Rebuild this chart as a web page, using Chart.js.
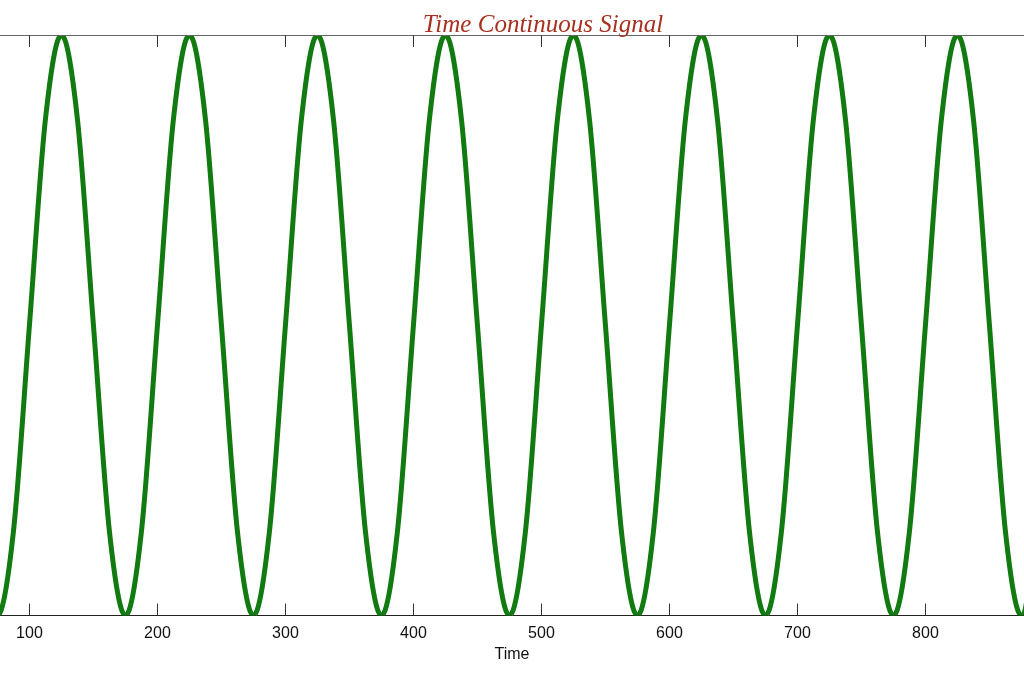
<!DOCTYPE html>
<html>
<head>
<meta charset="utf-8">
<script src="https://cdn.jsdelivr.net/npm/chart.js@4.4.1/dist/chart.umd.min.js"></script>
<style>
  html, body { margin: 0; padding: 0; background: #fff; }
  #wrap { width: 1024px; height: 673px; }
</style>
</head>
<body>
<div id="wrap"><canvas id="sig"></canvas></div>
<script>
// 時間軸 (サンプル点)
const times = [
  62.5, 75, 87.5, 100, 112.5, 125, 137.5, 150, 162.5,
  175, 187.5, 200, 212.5, 225, 237.5, 250, 262.5,
  275, 287.5, 300, 312.5, 325, 337.5, 350, 362.5,
  375, 387.5, 400, 412.5, 425, 437.5, 450, 462.5,
  475, 487.5, 500, 512.5, 525, 537.5, 550, 562.5,
  575, 587.5, 600, 612.5, 625, 637.5, 650, 662.5,
  675, 687.5, 700, 712.5, 725, 737.5, 750, 762.5,
  775, 787.5, 800, 812.5, 825, 837.5, 850, 862.5,
  875, 887.5
];
// 信号の値
const signal = [
  -0.71, -1, -0.71, 0, 0.71, 1, 0.71, 0, -0.71,
  -1, -0.71, 0, 0.71, 1, 0.71, 0, -0.71,
  -1, -0.71, 0, 0.71, 1, 0.71, 0, -0.71,
  -1, -0.71, 0, 0.71, 1, 0.71, 0, -0.71,
  -1, -0.71, 0, 0.71, 1, 0.71, 0, -0.71,
  -1, -0.71, 0, 0.71, 1, 0.71, 0, -0.71,
  -1, -0.71, 0, 0.71, 1, 0.71, 0, -0.71,
  -1, -0.71, 0, 0.71, 1, 0.71, 0, -0.71,
  -1, -0.71
];
// x軸の目盛り
const xTicks = [100, 200, 300, 400, 500, 600, 700, 800];
const titleText = 'Time Continuous Signal';
const xLabel = 'Time';

// 内向きの目盛りと上枠、タイトルを描く
const framePlugin = {
  id: 'frame',
  afterDraw(chart) {
    const ctx = chart.ctx;
    const area = chart.chartArea;
    const xs = chart.scales.x;
    ctx.save();
    // 上枠
    ctx.strokeStyle = '#666';
    ctx.lineWidth = 1.2;
    ctx.beginPath();
    ctx.moveTo(area.left, area.top + 0.5);
    ctx.lineTo(area.right, area.top + 0.5);
    ctx.stroke();
    // 目盛り
    ctx.strokeStyle = '#333';
    ctx.lineWidth = 1;
    xTicks.forEach(v => {
      const px = Math.round(xs.getPixelForValue(v)) + 0.5;
      ctx.beginPath();
      ctx.moveTo(px, area.top);
      ctx.lineTo(px, area.top + 12);
      ctx.moveTo(px, area.bottom);
      ctx.lineTo(px, area.bottom - 12);
      ctx.stroke();
    });
    // タイトル
    ctx.fillStyle = '#a8301f';
    ctx.font = 'italic 25px "Liberation Serif", "DejaVu Serif", serif';
    ctx.textAlign = 'center';
    ctx.textBaseline = 'alphabetic';
    ctx.fillText(titleText, 543, area.top - 3);
    ctx.restore();
  }
};

const ctx = document.getElementById('sig').getContext('2d');
const chart = new Chart(ctx, {
  type: 'line',
  data: {
    datasets: [{
      data: times.map((t, i) => ({ x: t, y: signal[i] })),
      borderColor: '#117a11',
      borderWidth: 5,
      pointRadius: 0,
      cubicInterpolationMode: 'monotone',
      fill: false
    }]
  },
  options: {
    responsive: true,
    maintainAspectRatio: false,
    animation: false,
    layout: { padding: { top: 35, left: 0, right: 0, bottom: 0 } },
    plugins: {
      legend: { display: false },
      tooltip: { enabled: false },
      title: { display: false }
    },
    scales: {
      x: {
        type: 'linear',
        min: 77,
        max: 877,
        afterBuildTicks: (scale) => {
          scale.ticks = xTicks.map(v => ({ value: v }));
        },
        grid: { display: false, drawTicks: false },
        border: { display: true, color: '#222', width: 1 },
        ticks: {
          color: '#111',
          font: { family: '"Liberation Sans", Arial, sans-serif', size: 16 },
          padding: 8,
          maxRotation: 0,
          autoSkip: false
        },
        title: {
          display: true,
          text: xLabel,
          color: '#111',
          font: { family: '"Liberation Sans", Arial, sans-serif', size: 16 },
          padding: { top: -6, bottom: 9 }
        }
      },
      y: {
        display: false,
        min: -1,
        max: 1
      }
    }
  },
  plugins: [framePlugin]
});
</script>
</body>
</html>
